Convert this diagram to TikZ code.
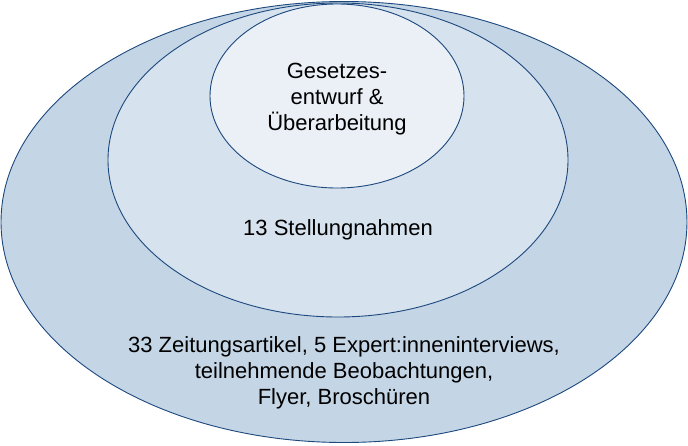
\documentclass[tikz,border=0pt]{standalone}
\usepackage{fontspec}
\setmainfont{Liberation Sans}
\usepackage{tikz}
\usetikzlibrary{shapes.geometric}

\definecolor{rimblue}{RGB}{28,72,125}
\definecolor{outerfill}{RGB}{196,213,230}
\definecolor{midfill}{RGB}{214,226,237}
\definecolor{innerfill}{RGB}{234,240,246}

\tikzset{
  ring/.style={ellipse, draw=rimblue, line width=0.9pt, inner sep=0pt},
  ringtext/.style={align=center, font=\fontsize{22}{26}\selectfont}
}

\begin{document}
\begin{tikzpicture}[x=1pt,y=-1pt]
\useasboundingbox (0,0) rectangle (688,445);
% nested ellipses
\node[ring, fill=outerfill, minimum width=686pt, minimum height=441pt] (quellen) at (344,222) {};
\node[ring, fill=midfill, minimum width=460pt, minimum height=314pt] (stellung) at (338,160) {};
\node[ring, fill=innerfill, minimum width=254pt, minimum height=184pt] (entwurf) at (337,96) {};
% texts
\node[ringtext] (entwurftext) at (337,99) {Gesetzes-\\entwurf \&\\Überarbeitung};
\node[ringtext] (stellungtext) at (338,230) {13 Stellungnahmen};
\node[ringtext] (quellentext) at (344,373) {33 Zeitungsartikel, 5 Expert:inneninterviews,\\teilnehmende Beobachtungen,\\Flyer, Broschüren};
\end{tikzpicture}
\end{document}
